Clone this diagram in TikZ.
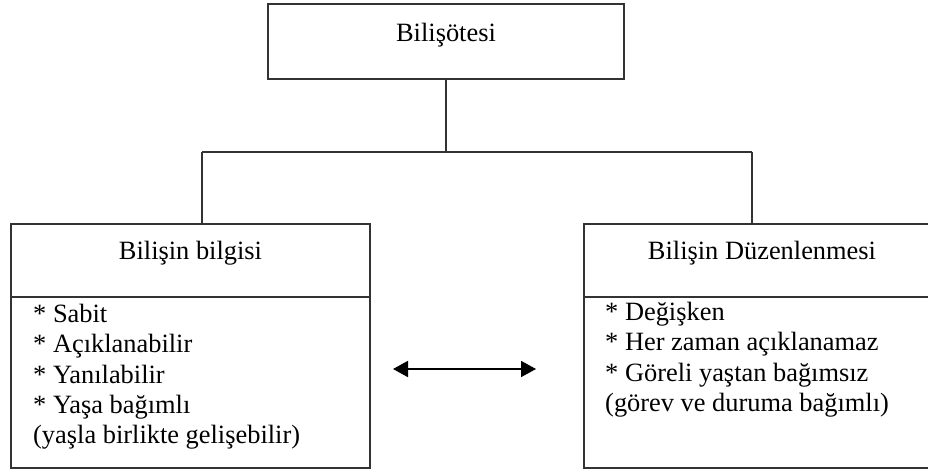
\documentclass[tikz,border=0pt]{standalone}
\usepackage{fontspec}
\setmainfont{Liberation Serif}
\usetikzlibrary{arrows.meta}
\tikzset{
  box/.style={draw=black!80, line width=1.8pt, rectangle, inner sep=0pt},
  conn/.style={draw=black!80, line width=1.8pt},
  ttl/.style={font=\fontsize{26.4pt}{30.3pt}\selectfont, inner sep=0pt, anchor=base},
  lst/.style={font=\fontsize{26.4pt}{30.3pt}\selectfont, inner sep=0pt, align=left, anchor=north west},
}
\begin{document}
\begin{tikzpicture}[x=1pt,y=-1pt]
\clip (0,0) rectangle (928,473);
\fill[white] (0,0) rectangle (928,473);
% boxes
\node[box, minimum width=356pt, minimum height=75pt] (top) at (446,41.5) {};
\node[box, minimum width=359pt, minimum height=244pt] (lbox) at (190.5,346) {};
\node[box, minimum width=360pt, minimum height=244pt] (rbox) at (764,346) {};
% dividers
\draw[conn] (lbox.west |- 0,297) -- (lbox.east |- 0,297);
\draw[conn] (rbox.west |- 0,297) -- (rbox.east |- 0,297);
% titles
\node[ttl] (ttop) at (446,42) {Bilişötesi};
\node[ttl] (tl) at (190.5,259) {Bilişin bilgisi};
\node[ttl] (tr) at (762,259) {Bilişin Düzenlenmesi};
% lists
\node[lst] (ll) at (33,304) {* Sabit\\* Açıklanabilir\\* Yanılabilir\\* Yaşa bağımlı\\(yaşla birlikte gelişebilir)};
\node[lst] (rl) at (605,302) {* Değişken\\* Her zaman açıklanamaz\\* Göreli yaştan bağımsız\\(görev ve duruma bağımlı)};
% tree connectors
\coordinate (j) at (446,152);
\coordinate (jl) at (202,152);
\coordinate (jr) at (752,152);
\draw[conn] (top.south) -- (j);
\draw[conn] (jl) -- (jr);
\draw[conn] (jl) -- (jl |- lbox.north);
\draw[conn] (jr) -- (jr |- rbox.north);
% double arrow
\coordinate (a1) at (393,369);
\coordinate (a2) at (536,369);
\draw[line width=1.8pt, {Triangle[length=15pt,width=16pt]}-{Triangle[length=15pt,width=16pt]}] (a1) -- (a2);
\end{tikzpicture}
\end{document}
